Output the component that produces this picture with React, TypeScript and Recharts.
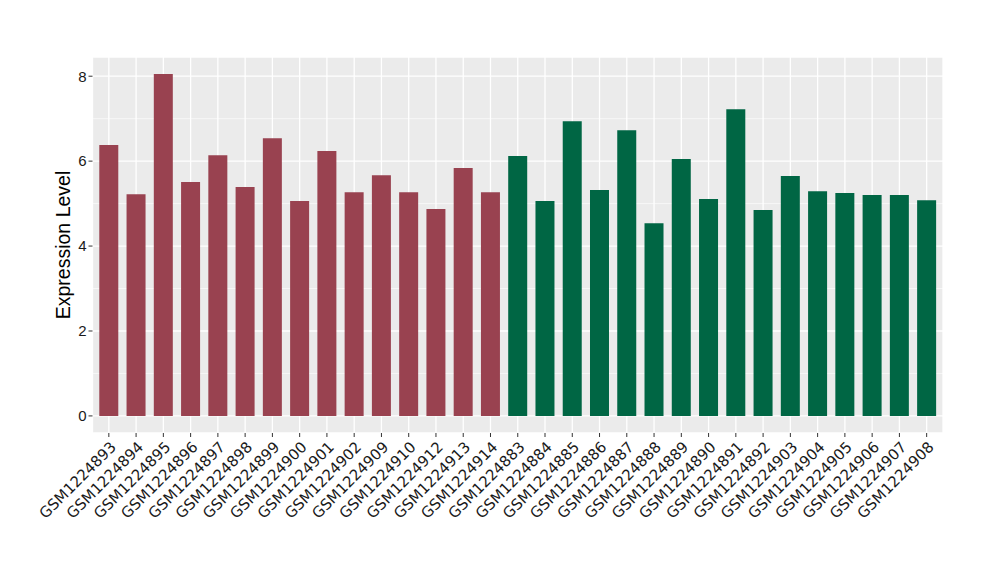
import React from 'react';
import { BarChart, Bar, Cell, XAxis, YAxis, CartesianGrid } from 'recharts';

// sample ids, in plot order
const samples = [
  'GSM1224893', 'GSM1224894', 'GSM1224895', 'GSM1224896', 'GSM1224897', 'GSM1224898',
  'GSM1224899', 'GSM1224900', 'GSM1224901', 'GSM1224902', 'GSM1224909', 'GSM1224910',
  'GSM1224912', 'GSM1224913', 'GSM1224914', 'GSM1224883', 'GSM1224884', 'GSM1224885',
  'GSM1224886', 'GSM1224887', 'GSM1224888', 'GSM1224889', 'GSM1224890', 'GSM1224891',
  'GSM1224892', 'GSM1224903', 'GSM1224904', 'GSM1224905', 'GSM1224906', 'GSM1224907',
  'GSM1224908',
];

const expression = [
  6.38, 5.22, 8.05, 5.51, 6.14, 5.39, 6.54, 5.06, 6.24, 5.27, 5.67, 5.27, 4.87, 5.84, 5.27,
  6.12, 5.06, 6.94, 5.32, 6.73, 4.54, 6.05, 5.11, 7.22, 4.85, 5.65, 5.29, 5.25, 5.2, 5.2, 5.08,
];

// group of each sample: 0 = first group (red), 1 = second group (green)
const groups = [
  0, 0, 0, 0, 0, 0, 0, 0, 0, 0, 0, 0, 0, 0, 0,
  1, 1, 1, 1, 1, 1, 1, 1, 1, 1, 1, 1, 1, 1, 1, 1,
];

const groupColors = ['#994250', '#006644'];
const yTicks = [0, 2, 4, 6, 8];
const yMinor = [1, 3, 5, 7];

const data = samples.map((name, i) => ({ name, value: expression[i], group: groups[i] }));

const FONT = '"Liberation Sans", Arial, sans-serif';

function SampleTick({ x, y, payload }: any) {
  return (
    <g transform={`translate(${x},${y})`}>
      <text
        x={0}
        y={0}
        dy="0.76em"
        textAnchor="end"
        transform="rotate(-45)"
        fontSize={15}
        fontFamily='"DejaVu Sans", sans-serif'
        fill="#1a1a1a"
      >
        {payload.value}
      </text>
    </g>
  );
}

export default function App() {
  return (
    <div style={{ position: 'absolute', left: 0, top: 0, width: 1000, height: 580, background: '#fff' }}>
      <BarChart
        width={1000}
        height={580}
        data={data}
        margin={{ top: 57, right: 57, bottom: 0, left: 0 }}
        barCategoryGap="15%"
      >
        <CartesianGrid
          fill="#EBEBEB"
          stroke="#ffffff"
          strokeWidth={0.6}
          vertical={false}
          horizontalValues={yMinor}
        />
        <CartesianGrid stroke="#ffffff" strokeWidth={1.3} />
        <XAxis
          dataKey="name"
          interval={0}
          height={147}
          padding={{ left: 2.7, right: 2.7 }}
          axisLine={false}
          tickLine={{ stroke: '#333333' }}
          tickSize={4}
          tickMargin={3}
          tick={<SampleTick />}
        />
        <YAxis
          type="number"
          domain={[-0.4025, 8.4525]}
          allowDataOverflow
          ticks={yTicks}
          width={92.5}
          axisLine={false}
          tickLine={{ stroke: '#333333' }}
          tickSize={4}
          tickMargin={2}
          tick={{ fontSize: 15, fontFamily: FONT, fill: '#1a1a1a' }}
          label={{
            value: 'Expression Level',
            angle: -90,
            position: 'insideLeft',
            offset: 0,
            dx: 63,
            style: { fontSize: 19.5, fontFamily: FONT, fill: '#000', textAnchor: 'middle' },
          }}
        />
        <Bar dataKey="value" isAnimationActive={false}>
          {data.map((d, i) => (
            <Cell key={`bar-${i}`} fill={groupColors[d.group]} />
          ))}
        </Bar>
      </BarChart>
    </div>
  );
}
